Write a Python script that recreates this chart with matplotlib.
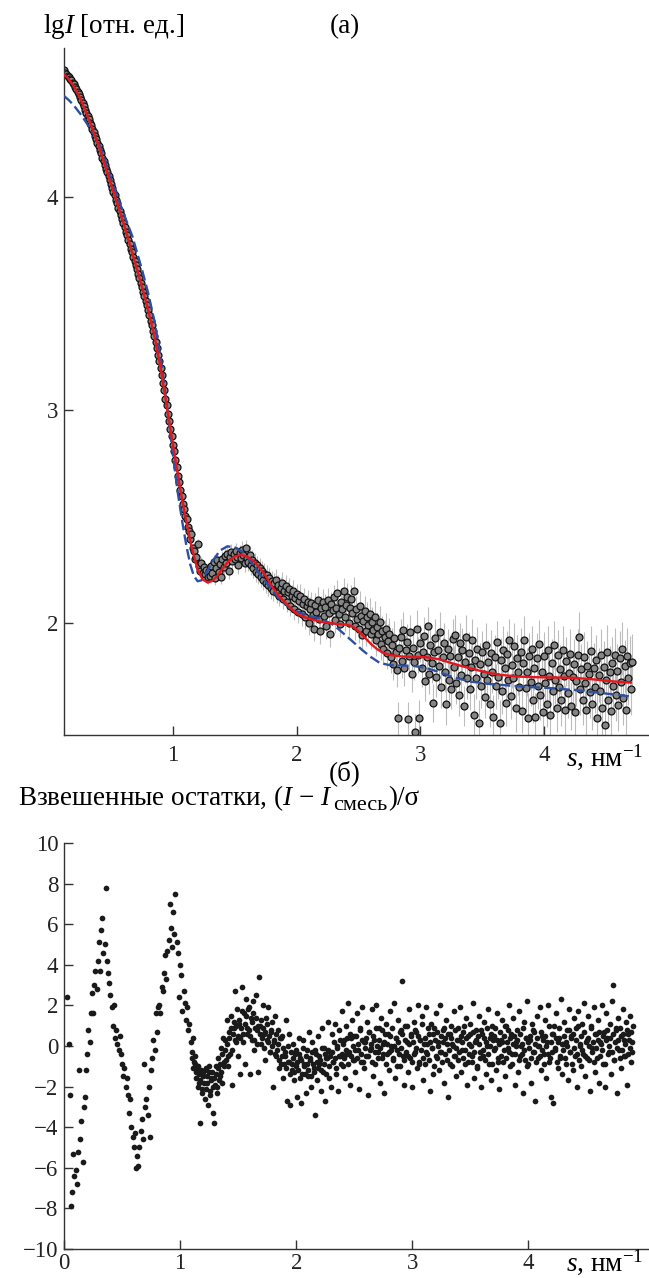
import matplotlib
matplotlib.use("Agg")
import matplotlib.pyplot as plt
import numpy as np

plt.rcParams["font.family"] = ["Liberation Serif", "DejaVu Serif"]
plt.rcParams["mathtext.fontset"] = "custom"
plt.rcParams["mathtext.rm"] = "Liberation Serif"
plt.rcParams["mathtext.it"] = "Liberation Serif:italic"
plt.rcParams["mathtext.bf"] = "Liberation Serif:bold"

# measurement grid, s in nm^-1
s_grid = [
    0.03, 0.04, 0.05, 0.06, 0.07, 0.08, 0.09,
    0.10, 0.11, 0.12, 0.13, 0.14, 0.15, 0.16, 0.17, 0.18, 0.19,
    0.20, 0.21, 0.22, 0.23, 0.24, 0.25, 0.26, 0.27, 0.28, 0.29,
    0.30, 0.31, 0.32, 0.33, 0.34, 0.35, 0.36, 0.37, 0.38, 0.39,
    0.40, 0.41, 0.42, 0.43, 0.44, 0.45, 0.46, 0.47, 0.48, 0.49,
    0.50, 0.51, 0.52, 0.53, 0.54, 0.55, 0.56, 0.57, 0.58, 0.59,
    0.60, 0.61, 0.62, 0.63, 0.64, 0.65, 0.66, 0.67, 0.68, 0.69,
    0.70, 0.71, 0.72, 0.73, 0.74, 0.75, 0.76, 0.77, 0.78, 0.79,
    0.80, 0.81, 0.82, 0.83, 0.84, 0.85, 0.86, 0.87, 0.88, 0.89,
    0.90, 0.91, 0.92, 0.93, 0.94, 0.95, 0.96, 0.97, 0.98, 0.99,
    1.00, 1.01, 1.02, 1.03, 1.04, 1.05, 1.06, 1.07, 1.08, 1.09,
    1.10, 1.11, 1.12, 1.13, 1.14, 1.15, 1.16, 1.17, 1.18, 1.19,
    1.20, 1.21, 1.22, 1.23, 1.24, 1.25, 1.26, 1.27, 1.28, 1.29,
    1.30, 1.31, 1.32, 1.33, 1.34, 1.35, 1.36, 1.37, 1.38, 1.39,
    1.40, 1.41, 1.42, 1.43, 1.44, 1.45, 1.46, 1.47, 1.48, 1.49,
    1.50, 1.51, 1.52, 1.53, 1.54, 1.55, 1.56, 1.57, 1.58, 1.59,
    1.60, 1.61, 1.62, 1.63, 1.64, 1.65, 1.66, 1.67, 1.68, 1.69,
    1.70, 1.71, 1.72, 1.73, 1.74, 1.75, 1.76, 1.77, 1.78, 1.79,
    1.80, 1.81, 1.82, 1.83, 1.84, 1.85, 1.86, 1.87, 1.88, 1.89,
    1.90, 1.91, 1.92, 1.93, 1.94, 1.95, 1.96, 1.97, 1.98, 1.99,
    2.00, 2.01, 2.02, 2.03, 2.04, 2.05, 2.06, 2.07, 2.08, 2.09,
    2.10, 2.11, 2.12, 2.13, 2.14, 2.15, 2.16, 2.17, 2.18, 2.19,
    2.20, 2.21, 2.22, 2.23, 2.24, 2.25, 2.26, 2.27, 2.28, 2.29,
    2.30, 2.31, 2.32, 2.33, 2.34, 2.35, 2.36, 2.37, 2.38, 2.39,
    2.40, 2.41, 2.42, 2.43, 2.44, 2.45, 2.46, 2.47, 2.48, 2.49,
    2.50, 2.51, 2.52, 2.53, 2.54, 2.55, 2.56, 2.57, 2.58, 2.59,
    2.60, 2.61, 2.62, 2.63, 2.64, 2.65, 2.66, 2.67, 2.68, 2.69,
    2.70, 2.71, 2.72, 2.73, 2.74, 2.75, 2.76, 2.77, 2.78, 2.79,
    2.80, 2.81, 2.82, 2.83, 2.84, 2.85, 2.86, 2.87, 2.88, 2.89,
    2.90, 2.91, 2.92, 2.93, 2.94, 2.95, 2.96, 2.97, 2.98, 2.99,
    3.00, 3.01, 3.02, 3.03, 3.04, 3.05, 3.06, 3.07, 3.08, 3.09,
    3.10, 3.11, 3.12, 3.13, 3.14, 3.15, 3.16, 3.17, 3.18, 3.19,
    3.20, 3.21, 3.22, 3.23, 3.24, 3.25, 3.26, 3.27, 3.28, 3.29,
    3.30, 3.31, 3.32, 3.33, 3.34, 3.35, 3.36, 3.37, 3.38, 3.39,
    3.40, 3.41, 3.42, 3.43, 3.44, 3.45, 3.46, 3.47, 3.48, 3.49,
    3.50, 3.51, 3.52, 3.53, 3.54, 3.55, 3.56, 3.57, 3.58, 3.59,
    3.60, 3.61, 3.62, 3.63, 3.64, 3.65, 3.66, 3.67, 3.68, 3.69,
    3.70, 3.71, 3.72, 3.73, 3.74, 3.75, 3.76, 3.77, 3.78, 3.79,
    3.80, 3.81, 3.82, 3.83, 3.84, 3.85, 3.86, 3.87, 3.88, 3.89,
    3.90, 3.91, 3.92, 3.93, 3.94, 3.95, 3.96, 3.97, 3.98, 3.99,
    4.00, 4.01, 4.02, 4.03, 4.04, 4.05, 4.06, 4.07, 4.08, 4.09,
    4.10, 4.11, 4.12, 4.13, 4.14, 4.15, 4.16, 4.17, 4.18, 4.19,
    4.20, 4.21, 4.22, 4.23, 4.24, 4.25, 4.26, 4.27, 4.28, 4.29,
    4.30, 4.31, 4.32, 4.33, 4.34, 4.35, 4.36, 4.37, 4.38, 4.39,
    4.40, 4.41, 4.42, 4.43, 4.44, 4.45, 4.46, 4.47, 4.48, 4.49,
    4.50, 4.51, 4.52, 4.53, 4.54, 4.55, 4.56, 4.57, 4.58, 4.59,
    4.60, 4.61, 4.62, 4.63, 4.64, 4.65, 4.66, 4.67, 4.68, 4.69,
    4.70, 4.71, 4.72, 4.73, 4.74, 4.75, 4.76, 4.77, 4.78, 4.79,
    4.80, 4.81, 4.82, 4.83, 4.84, 4.85, 4.86, 4.87, 4.88, 4.89,
    4.90,
]

# weighted residuals (I - I_mix)/sigma on s_grid
resid = [
    2.4, 0.1, -2.4, -7.9, -7.2, -5.3, -6.4,
    -6.1, -6.8, -5.2, -1.2, -4.6, -3.7, -5.7, -3.0, -2.5, -1.2,
    -0.4, 0.8, 0.2, 1.6, 2.6, 1.6, 3.0, 3.7, 2.8, 4.2,
    5.1, 3.7, 5.7, 6.3, 4.6, 5.0, 7.8, 4.2, 3.6, 3.1,
    2.5, 1.9, 1.0, 2.0, 0.4, 0.8, 0.1, -0.2, 0.5, -0.4,
    -0.9, -1.5, -1.1, -2.0, -1.6, -2.4, -3.3, -2.6, -4.0, -4.5,
    -5.0, -4.3, -6.0, -5.4, -5.9, -5.0, -4.2, -3.6, -4.6, -0.9,
    -3.0, -2.6, -3.4, -2.0, -4.5, -1.2, -0.6, 0.3, -0.2, 1.6,
    0.7, 1.9, 2.0, 1.6, 2.9, 2.7, 3.6, 4.5, 3.3, 4.7,
    5.2, 7.0, 5.8, 4.9, 6.6, 5.5, 7.5, 5.1, 4.6, 2.4,
    4.0, 3.5, 1.7, 2.7, 2.1, 1.3, 1.9, 0.8, 1.1, 0.2,
    -0.3, 0.4, -0.8, -0.5, -1.3, -1.0, -1.8, -3.8, -1.2, -2.1,
    -1.5, -2.6, -1.1, -1.8, -2.9, -1.3, -2.2, -1.6, -3.3, -3.8,
    -1.9, -1.0, -2.3, -0.6, -1.5, -0.1, -1.8, 0.4, -0.8, 0.3,
    1.3, -1.0, 0.7, -0.4, 1.5, -1.9, 0.9, 2.7, 0.2, 1.8,
    -0.5, 1.1, -1.4, 2.9, 0.6, 1.6, -0.9, 2.3, 0.9, 1.9,
    -1.4, 1.4, 0.3, 2.2, -0.2, 2.5, 0.8, -1.3, 3.4, 1.0,
    0.1, 2.0, 0.6, -0.7, 1.4, 0.3, 1.9, -0.3, 0.7, 1.2,
    -2.0, 0.2, 1.5, -0.5, 0.8, -1.1, 0.4, -0.9, 0.5, -1.6,
    -0.3, 1.3, -2.7, -0.8, 0.6, -2.9, -1.2, 0.1, -1.7, -0.4,
    -1.0, -2.5, 0.4, -0.6, -2.8, -1.4, 0.3, -0.9, -2.3, -0.2,
    -1.5, 0.7, -0.7, -2.0, 0.2, -1.1, -3.4, -0.4, -1.7, 0.5,
    -0.9, -2.2, 0.9, -1.3, -0.1, -2.7, -0.6, 1.2, -1.6, -0.3,
    -2.0, 0.6, -0.8, 1.1, -1.4, 0.0, -2.2, 0.8, -0.5, 1.7,
    -1.0, 0.3, -1.6, 1.0, -0.4, 2.1, -1.9, 0.4, 1.3, -0.7,
    0.5, -1.3, 1.6, -0.2, -2.1, 0.9, -0.8, 1.9, -1.1, 0.2,
    -0.5, 1.2, -2.4, 0.7, -0.1, 1.8, -1.5, 0.3, -0.9, 2.0,
    -0.3, 0.9, -1.8, 1.4, -0.6, 0.1, -2.3, 1.1, -0.4, 0.6,
    -1.2, 1.7, 0.0, -0.7, 2.1, -1.6, 0.4, -0.2, 1.3, -1.0,
    0.8, 3.2, -0.5, -1.9, 1.0, 0.2, -1.3, 1.8, -0.6, 0.5,
    -2.0, 1.2, -0.3, 0.7, -1.1, 2.0, -0.8, 0.3, 1.5, -1.7,
    0.1, -0.9, 1.9, -0.4, 0.6, -2.2, 1.1, -0.1, -1.4, 0.9,
    1.6, -0.6, 0.2, -1.2, 2.0, -0.3, 0.8, -1.8, 0.4, 1.3,
    -0.7, -2.5, 0.6, 1.0, -1.0, 0.0, 1.7, -0.5, -1.5, 0.9,
    0.3, 1.9, -1.3, -0.2, 0.7, -0.9, 1.4, -1.9, 0.5, -0.4,
    1.1, -0.8, 2.1, -1.6, 0.2, 0.8, -1.1, 1.5, -0.3, -2.0,
    0.6, -0.5, 1.2, -1.4, 0.0, 1.8, -0.9, 0.4, -1.7, 1.0,
    -0.2, 0.9, -1.2, 1.6, -0.6, -2.1, 0.3, 1.3, -0.8, 0.5,
    -1.5, 1.0, -0.1, 2.0, -1.0, 0.6, -0.4, 1.4, -1.9, 0.2,
    0.8, -1.3, 1.7, -0.5, 0.1, -2.3, 1.2, -0.7, 0.4, 2.2,
    -0.9, 0.3, -1.8, 1.1, -0.3, 0.7, -2.7, 1.5, -0.6, 0.0,
    1.9, -1.2, 0.5, -0.4, 1.3, -1.6, 0.2, 2.0, -0.8, -2.5,
    0.6, -2.8, 1.0, -0.2, 1.6, -1.1, 0.4, -0.6, 2.3, -1.4,
    0.1, 1.2, -0.9, 0.8, -1.7, 1.8, -0.3, 0.5, -1.2, 1.4,
    -0.5, 0.9, -2.0, 1.7, 0.0, -1.0, 1.1, -0.4, 2.1, -1.5,
    0.3, 1.5, -0.7, -2.2, 1.0, -0.1, 1.9, -1.3, 0.6, -0.6,
    1.3, -1.8, 0.2, 2.0, -0.9, 0.7, -2.0, 1.6, 0.4, -0.3,
    1.1, -1.4, 2.2, 3.0, -0.7, 0.8, -2.3, 1.4, -0.2, 0.9,
    -1.1, 1.8, 0.3, -0.5, 1.2, -1.9, 0.6, 1.5, -0.8, 0.2,
    1.0,
]

# second set of residual points, between the grid nodes above (s >= 1.1)
s_grid_b = [
    1.105, 1.115, 1.125, 1.135, 1.145, 1.155, 1.165, 1.175, 1.185, 1.195,
    1.205, 1.215, 1.225, 1.235, 1.245, 1.255, 1.265, 1.275, 1.285, 1.295,
    1.305, 1.315, 1.325, 1.335, 1.345, 1.355, 1.365, 1.375, 1.385, 1.395,
    1.405, 1.415, 1.425, 1.435, 1.445, 1.455, 1.465, 1.475, 1.485, 1.495,
    1.505, 1.515, 1.525, 1.535, 1.545, 1.555, 1.565, 1.575, 1.585, 1.595,
    1.605, 1.615, 1.625, 1.635, 1.645, 1.655, 1.665, 1.675, 1.685, 1.695,
    1.705, 1.715, 1.725, 1.735, 1.745, 1.755, 1.765, 1.775, 1.785, 1.795,
    1.805, 1.815, 1.825, 1.835, 1.845, 1.855, 1.865, 1.875, 1.885, 1.895,
    1.905, 1.915, 1.925, 1.935, 1.945, 1.955, 1.965, 1.975, 1.985, 1.995,
    2.005, 2.015, 2.025, 2.035, 2.045, 2.055, 2.065, 2.075, 2.085, 2.095,
    2.105, 2.115, 2.125, 2.135, 2.145, 2.155, 2.165, 2.175, 2.185, 2.195,
    2.205, 2.215, 2.225, 2.235, 2.245, 2.255, 2.265, 2.275, 2.285, 2.295,
    2.305, 2.315, 2.325, 2.335, 2.345, 2.355, 2.365, 2.375, 2.385, 2.395,
    2.405, 2.415, 2.425, 2.435, 2.445, 2.455, 2.465, 2.475, 2.485, 2.495,
    2.505, 2.515, 2.525, 2.535, 2.545, 2.555, 2.565, 2.575, 2.585, 2.595,
    2.605, 2.615, 2.625, 2.635, 2.645, 2.655, 2.665, 2.675, 2.685, 2.695,
    2.705, 2.715, 2.725, 2.735, 2.745, 2.755, 2.765, 2.775, 2.785, 2.795,
    2.805, 2.815, 2.825, 2.835, 2.845, 2.855, 2.865, 2.875, 2.885, 2.895,
    2.905, 2.915, 2.925, 2.935, 2.945, 2.955, 2.965, 2.975, 2.985, 2.995,
    3.005, 3.015, 3.025, 3.035, 3.045, 3.055, 3.065, 3.075, 3.085, 3.095,
    3.105, 3.115, 3.125, 3.135, 3.145, 3.155, 3.165, 3.175, 3.185, 3.195,
    3.205, 3.215, 3.225, 3.235, 3.245, 3.255, 3.265, 3.275, 3.285, 3.295,
    3.305, 3.315, 3.325, 3.335, 3.345, 3.355, 3.365, 3.375, 3.385, 3.395,
    3.405, 3.415, 3.425, 3.435, 3.445, 3.455, 3.465, 3.475, 3.485, 3.495,
    3.505, 3.515, 3.525, 3.535, 3.545, 3.555, 3.565, 3.575, 3.585, 3.595,
    3.605, 3.615, 3.625, 3.635, 3.645, 3.655, 3.665, 3.675, 3.685, 3.695,
    3.705, 3.715, 3.725, 3.735, 3.745, 3.755, 3.765, 3.775, 3.785, 3.795,
    3.805, 3.815, 3.825, 3.835, 3.845, 3.855, 3.865, 3.875, 3.885, 3.895,
    3.905, 3.915, 3.925, 3.935, 3.945, 3.955, 3.965, 3.975, 3.985, 3.995,
    4.005, 4.015, 4.025, 4.035, 4.045, 4.055, 4.065, 4.075, 4.085, 4.095,
    4.105, 4.115, 4.125, 4.135, 4.145, 4.155, 4.165, 4.175, 4.185, 4.195,
    4.205, 4.215, 4.225, 4.235, 4.245, 4.255, 4.265, 4.275, 4.285, 4.295,
    4.305, 4.315, 4.325, 4.335, 4.345, 4.355, 4.365, 4.375, 4.385, 4.395,
    4.405, 4.415, 4.425, 4.435, 4.445, 4.455, 4.465, 4.475, 4.485, 4.495,
    4.505, 4.515, 4.525, 4.535, 4.545, 4.555, 4.565, 4.575, 4.585, 4.595,
    4.605, 4.615, 4.625, 4.635, 4.645, 4.655, 4.665, 4.675, 4.685, 4.695,
    4.705, 4.715, 4.725, 4.735, 4.745, 4.755, 4.765, 4.775, 4.785, 4.795,
    4.805, 4.815, 4.825, 4.835, 4.845, 4.855, 4.865, 4.875, 4.885, 4.895,
]
resid_b = [
    -0.6, -1.1, -0.9, -1.6, -1.2, -2.0, -1.4, -1.7, -2.3, -1.3,
    -1.8, -1.2, -2.1, -1.5, -1.0, -2.4, -1.7, -1.3, -2.0, -1.6,
    -1.4, -2.0, -1.1, -1.7, -0.9, -1.3, -0.4, -1.0, -0.2, -0.7,
    0.1, -0.5, 0.4, 0.9, -0.2, 0.6, 1.2, 0.3, 1.0, 0.5,
    1.3, 0.4, 0.9, 1.7, 0.2, 1.1, 1.5, 0.6, 1.8, 0.8,
    0.5, 1.2, 1.6, 0.3, 0.9, 1.4, 0.1, 1.0, 0.6, 1.3,
    0.4, 0.9, -0.1, 0.7, 1.1, 0.2, 0.5, -0.3, 0.8, 0.0,
    0.3, -0.4, 0.6, -0.2, 0.1, -0.7, 0.4, -0.5, -0.1, -0.9,
    -0.5, -1.1, 0.0, -0.8, -1.4, -0.3, -0.9, -0.6, -1.3, -0.2,
    -0.8, -1.2, -0.4, -1.6, -0.7, -0.1, -1.0, -1.4, -0.5, -0.9,
    -1.2, -0.6, -1.5, -0.3, -0.9, -1.3, -0.2, -0.8, -1.1, -0.5,
    -0.7, -1.2, -0.1, -0.9, -0.4, -1.4, -0.6, -0.2, -1.0, -0.5,
    -0.3, -0.8, 0.2, -0.6, -1.1, -0.1, -0.5, 0.3, -0.9, -0.4,
    0.1, -0.6, -0.2, 0.4, -0.9, -0.3, 0.6, -0.5, 0.0, -0.7,
    -0.2, 0.5, -0.6, 0.1, 0.8, -0.4, 0.3, -0.8, 0.2, -0.1,
    0.4, -0.5, 0.7, -0.2, 0.1, -0.8, 0.5, -0.3, 0.9, 0.0,
    -0.6, 0.3, -0.1, 0.8, -0.4, 0.2, 0.6, -0.9, 0.1, -0.3,
    0.5, -0.2, 0.9, -0.6, 0.0, 0.4, -1.0, 0.2, -0.4, 0.7,
    -0.1, 0.6, -0.7, 0.3, -0.3, 1.0, -0.5, 0.1, 0.6, -0.8,
    0.2, -0.4, 0.8, -0.1, 0.5, -0.9, 0.3, -0.2, 1.1, -0.6,
    0.4, -0.3, 0.1, 0.9, -0.7, 0.2, -0.1, 0.6, -1.0, 0.3,
    -0.5, 0.7, 0.0, -0.3, 0.5, -0.8, 0.2, 0.9, -0.4, 0.1,
    0.6, -0.2, -0.9, 0.4, 0.1, -0.5, 0.8, -0.1, 0.3, -0.7,
    -0.3, 0.5, 0.2, -0.6, 1.0, -0.2, 0.4, -0.8, 0.1, 0.6,
    0.0, -0.5, 0.7, -0.3, 0.3, -1.0, 0.5, 0.1, -0.6, 0.8,
    -0.2, 0.4, -0.7, 0.2, 0.9, -0.4, 0.0, 0.6, -0.9, 0.3,
    0.5, -0.1, 0.3, -0.8, 0.1, 0.7, -0.5, 0.2, -0.2, 1.0,
    -0.6, 0.2, 0.8, -0.3, 0.4, -0.9, 0.1, 0.5, -0.4, 0.0,
    0.3, -0.7, 0.6, 0.0, -0.4, 0.9, -0.2, 0.4, -1.0, 0.2,
    -0.1, 0.5, -0.6, 0.8, -0.3, 0.1, -0.8, 0.4, 0.0, -0.5,
    0.7, -0.2, 0.3, -0.9, 0.5, 0.0, -0.4, 1.0, -0.6, 0.2,
    -0.3, 0.6, -0.1, 0.4, -0.8, 0.2, 0.9, -0.5, 0.1, -0.2,
    0.5, -0.6, 0.2, 0.0, 0.8, -0.3, 0.4, -0.9, 0.6, -0.1,
    0.3, -0.4, 1.0, -0.7, 0.1, 0.5, -0.2, 0.7, -0.5, 0.2,
    -0.6, 0.4, 0.0, 0.9, -0.3, 0.2, -0.8, 0.6, -0.1, 0.3,
    0.7, -0.5, 0.1, -0.2, 0.5, -0.9, 0.3, 0.8, -0.4, 0.0,
    0.4, -0.3, 0.6, -0.7, 0.2, 0.9, -0.1, 0.3, -0.6, 0.5,
    -0.2, 0.6, -0.5, 0.1, 0.8, -0.4, 0.3, -0.1, 0.7, -0.3,
]

# experimental lg I, on s_grid starting at s = 0.12
lgI_exp = [
    4.598, 4.585, 4.580, 4.568, 4.565, 4.553, 4.548, 4.536,
    4.532, 4.518, 4.509, 4.494, 4.486, 4.470, 4.458, 4.441, 4.429, 4.409,
    4.397, 4.380, 4.368, 4.350, 4.337, 4.320, 4.306, 4.287, 4.274, 4.255,
    4.242, 4.222, 4.207, 4.186, 4.170, 4.152, 4.133, 4.118, 4.097, 4.082,
    4.062, 4.045, 4.026, 4.009, 3.988, 3.972, 3.951, 3.936, 3.915, 3.899,
    3.878, 3.860, 3.838, 3.821, 3.798, 3.781, 3.758, 3.742, 3.719, 3.701,
    3.680, 3.661, 3.638, 3.622, 3.597, 3.580, 3.556, 3.537, 3.512, 3.494,
    3.468, 3.447, 3.420, 3.401, 3.372, 3.350, 3.318, 3.292, 3.258, 3.232,
    3.198, 3.165, 3.126, 3.094, 3.054, 3.022, 2.982, 2.950, 2.910, 2.878,
    2.838, 2.806, 2.764, 2.734, 2.692, 2.662, 2.626, 2.598, 2.560, 2.534,
    2.504, 2.488, 2.452, 2.432, 2.396, 2.420, 2.352, 2.336, 2.300, 2.310,
    2.372, 2.268, 2.244, 2.282, 2.236, 2.262, 2.228, 2.250, 2.214, 2.246,
    2.222, 2.268, 2.234, 2.286, 2.212, 2.258, 2.296, 2.240, 2.276, 2.218,
    2.302, 2.262, 2.314, 2.280, 2.326, 2.246, 2.310, 2.332, 2.290, 2.322,
    2.302, 2.336, 2.312, 2.274, 2.328, 2.304, 2.344, 2.318, 2.282, 2.350,
    2.306, 2.288, 2.318, 2.270, 2.298, 2.256, 2.284, 2.240, 2.272, 2.228,
    2.258, 2.214, 2.246, 2.200, 2.232, 2.188, 2.224, 2.176, 2.210, 2.162,
    2.196, 2.150, 2.188, 2.204, 2.142, 2.176, 2.128, 2.166, 2.190, 2.114,
    2.152, 2.172, 2.098, 2.146, 2.160, 2.082, 2.128, 2.150, 2.066, 2.118,
    2.134, 2.052, 2.102, 2.128, 2.040, 2.090, 2.112, 2.026, 2.078, 2.100,
    1.998, 2.066, 2.092, 2.036, 1.972, 2.084, 2.052, 2.110, 2.020, 1.960,
    2.070, 2.098, 2.034, 2.076, 1.986, 2.106, 2.048, 1.950, 2.088, 2.062,
    2.120, 2.014, 2.072, 2.140, 2.040, 1.996, 2.100, 2.066, 2.150, 2.028,
    2.086, 2.124, 2.002, 2.070, 2.112, 2.046, 2.150, 1.988, 2.064, 2.020,
    1.972, 2.080, 2.034, 1.944, 2.010, 2.058, 1.962, 2.026, 1.990, 2.044,
    1.950, 2.004, 1.968, 2.030, 1.918, 1.982, 1.946, 2.006, 1.900, 1.960,
    1.880, 1.936, 1.972, 1.860, 1.914, 1.948, 1.842, 1.896, 1.808, 1.930,
    1.862, 1.780, 1.552, 1.884, 1.936, 1.822, 1.968, 1.790, 1.874, 1.910,
    1.548, 1.846, 1.958, 1.760, 1.884, 1.816, 1.486, 1.972, 1.850, 1.552,
    1.904, 1.788, 1.866, 1.940, 1.726, 1.838, 1.986, 1.760, 1.896, 1.812,
    1.624, 1.862, 1.930, 1.744, 1.874, 1.796, 1.958, 1.700, 1.842, 1.906,
    1.770, 1.618, 1.880, 1.732, 1.846, 1.690, 1.924, 1.792, 1.944, 1.716,
    1.838, 1.664, 1.904, 1.756, 1.874, 1.610, 1.818, 1.936, 1.742, 1.858,
    1.688, 1.794, 1.920, 1.566, 1.828, 1.742, 1.880, 1.532, 1.806, 1.704,
    1.862, 1.760, 1.652, 1.896, 1.734, 1.818, 1.618, 1.860, 1.772, 1.558,
    1.842, 1.702, 1.910, 1.748, 1.530, 1.826, 1.680, 1.874, 1.790, 1.626,
    1.856, 1.730, 1.918, 1.658, 1.804, 1.742, 1.892, 1.600, 1.836, 1.770,
    1.700, 1.866, 1.586, 1.812, 1.920, 1.694, 1.770, 1.556, 1.846, 1.724,
    1.880, 1.640, 1.790, 1.560, 1.836, 1.706, 1.902, 1.660, 1.770, 1.580,
    1.846, 1.718, 1.620, 1.872, 1.752, 1.570, 1.810, 1.680, 1.896, 1.734,
    1.600, 1.850, 1.700, 1.782, 1.636, 1.874, 1.752, 1.590, 1.820, 1.670,
    1.766, 1.856, 1.612, 1.744, 1.806, 1.580, 1.728, 1.850, 1.936, 1.690,
    1.786, 1.640, 1.842, 1.716, 1.590, 1.800, 1.762, 1.676, 1.868, 1.620,
    1.788, 1.700, 1.826, 1.554, 1.756, 1.680, 1.850, 1.600, 1.794, 1.520,
    1.730, 1.866, 1.640, 1.770, 1.586, 1.812, 1.704, 1.848, 1.660, 1.774,
    1.616, 1.834, 1.722, 1.880, 1.650, 1.796, 1.590, 1.846, 1.740, 1.812,
    1.690, 1.818,
]

# error of lg I for the same points
lgI_err = [
    0.004, 0.004, 0.004, 0.004, 0.004, 0.004, 0.004, 0.004,
    0.005, 0.005, 0.005, 0.005, 0.005, 0.005, 0.005, 0.005, 0.005, 0.005,
    0.005, 0.005, 0.005, 0.005, 0.005, 0.005, 0.005, 0.005, 0.005, 0.005,
    0.005, 0.005, 0.005, 0.005, 0.005, 0.005, 0.005, 0.005, 0.005, 0.005,
    0.006, 0.006, 0.006, 0.006, 0.006, 0.006, 0.006, 0.006, 0.006, 0.006,
    0.006, 0.006, 0.006, 0.006, 0.006, 0.006, 0.006, 0.006, 0.006, 0.006,
    0.007, 0.007, 0.007, 0.007, 0.007, 0.007, 0.007, 0.007, 0.007, 0.007,
    0.008, 0.008, 0.008, 0.008, 0.008, 0.008, 0.008, 0.008, 0.008, 0.008,
    0.009, 0.009, 0.009, 0.009, 0.009, 0.009, 0.009, 0.009, 0.009, 0.009,
    0.010, 0.011, 0.012, 0.012, 0.013, 0.014, 0.014, 0.015, 0.016, 0.016,
    0.017, 0.018, 0.018, 0.019, 0.020, 0.020, 0.021, 0.022, 0.022, 0.023,
    0.024, 0.024, 0.025, 0.026, 0.026, 0.027, 0.028, 0.028, 0.029, 0.030,
    0.030, 0.031, 0.031, 0.032, 0.032, 0.033, 0.033, 0.034, 0.034, 0.035,
    0.035, 0.036, 0.036, 0.037, 0.037, 0.038, 0.038, 0.038, 0.039, 0.039,
    0.040, 0.039, 0.041, 0.042, 0.040, 0.043, 0.041, 0.042, 0.044, 0.042,
    0.043, 0.045, 0.042, 0.044, 0.046, 0.043, 0.045, 0.047, 0.044, 0.046,
    0.045, 0.047, 0.044, 0.046, 0.048, 0.045, 0.047, 0.049, 0.046, 0.048,
    0.047, 0.049, 0.046, 0.048, 0.050, 0.047, 0.049, 0.051, 0.048, 0.050,
    0.049, 0.051, 0.048, 0.050, 0.052, 0.049, 0.051, 0.053, 0.050, 0.052,
    0.051, 0.054, 0.050, 0.053, 0.055, 0.052, 0.054, 0.056, 0.053, 0.055,
    0.054, 0.057, 0.053, 0.056, 0.058, 0.055, 0.057, 0.059, 0.056, 0.058,
    0.057, 0.060, 0.056, 0.059, 0.061, 0.058, 0.060, 0.062, 0.059, 0.061,
    0.060, 0.063, 0.059, 0.062, 0.064, 0.061, 0.063, 0.065, 0.062, 0.064,
    0.063, 0.066, 0.062, 0.065, 0.067, 0.064, 0.066, 0.068, 0.065, 0.067,
    0.066, 0.069, 0.065, 0.068, 0.071, 0.067, 0.070, 0.072, 0.068, 0.071,
    0.070, 0.073, 0.069, 0.072, 0.075, 0.071, 0.074, 0.076, 0.072, 0.075,
    0.074, 0.077, 0.073, 0.076, 0.079, 0.075, 0.078, 0.080, 0.076, 0.079,
    0.078, 0.081, 0.077, 0.080, 0.083, 0.079, 0.082, 0.084, 0.080, 0.083,
    0.082, 0.085, 0.081, 0.084, 0.087, 0.083, 0.086, 0.088, 0.084, 0.087,
    0.086, 0.090, 0.085, 0.089, 0.092, 0.087, 0.091, 0.094, 0.088, 0.092,
    0.089, 0.093, 0.088, 0.092, 0.095, 0.090, 0.094, 0.097, 0.091, 0.095,
    0.092, 0.096, 0.091, 0.095, 0.098, 0.093, 0.097, 0.100, 0.094, 0.098,
    0.095, 0.099, 0.094, 0.098, 0.101, 0.096, 0.100, 0.103, 0.097, 0.101,
    0.098, 0.102, 0.097, 0.101, 0.104, 0.099, 0.103, 0.106, 0.100, 0.104,
    0.100, 0.104, 0.099, 0.103, 0.107, 0.101, 0.105, 0.108, 0.102, 0.106,
    0.102, 0.106, 0.101, 0.105, 0.109, 0.103, 0.107, 0.110, 0.104, 0.108,
    0.104, 0.108, 0.103, 0.107, 0.111, 0.105, 0.109, 0.112, 0.106, 0.110,
    0.106, 0.110, 0.105, 0.109, 0.113, 0.107, 0.111, 0.114, 0.108, 0.112,
    0.108, 0.112, 0.107, 0.111, 0.115, 0.109, 0.113, 0.116, 0.110, 0.114,
    0.110, 0.114, 0.109, 0.113, 0.117, 0.111, 0.115, 0.118, 0.112, 0.116,
    0.112, 0.116, 0.111, 0.115, 0.119, 0.113, 0.117, 0.120, 0.114, 0.118,
    0.114, 0.118, 0.113, 0.117, 0.121, 0.115, 0.119, 0.122, 0.116, 0.120,
    0.116, 0.120, 0.115, 0.119, 0.123, 0.117, 0.121, 0.124, 0.118, 0.122,
    0.118, 0.122, 0.117, 0.121, 0.125, 0.119, 0.123, 0.126, 0.120, 0.124,
    0.120, 0.124, 0.119, 0.123, 0.127, 0.121, 0.125, 0.128, 0.122, 0.126,
    0.122, 0.126, 0.121, 0.125, 0.129, 0.123, 0.127, 0.130, 0.124, 0.128,
    0.124, 0.128,
]

# fit of the mixture (red) and single-model fit (blue dashed)
fit_mix_s = [0.12, 0.15, 0.20, 0.25, 0.30, 0.35, 0.40, 0.45, 0.50, 0.55,
             0.60, 0.65, 0.70, 0.75, 0.80, 0.85, 0.90, 0.95, 1.00, 1.05,
             1.10, 1.15, 1.20, 1.24, 1.28, 1.32, 1.36, 1.40, 1.45, 1.50,
             1.55, 1.60, 1.65, 1.70, 1.75, 1.80, 1.85, 1.90, 1.95, 2.00,
             2.05, 2.10, 2.20, 2.30, 2.40, 2.45, 2.50, 2.55, 2.60, 2.65,
             2.70, 2.75, 2.85, 2.95, 3.05, 3.15, 3.25, 3.35, 3.45, 3.55,
             3.65, 3.80, 3.95, 4.10, 4.25, 4.40, 4.55, 4.70]
fit_mix = [4.575, 4.56, 4.52, 4.465, 4.395, 4.32, 4.24, 4.15, 4.06, 3.97,
           3.88, 3.78, 3.68, 3.58, 3.47, 3.35, 3.20, 3.02, 2.84, 2.66,
           2.50, 2.36, 2.25, 2.205, 2.19, 2.198, 2.222, 2.255, 2.29, 2.312,
           2.32, 2.312, 2.292, 2.26, 2.22, 2.172, 2.132, 2.10, 2.07, 2.045,
           2.03, 2.02, 2.005, 1.997, 1.992, 1.985, 1.962, 1.932, 1.902, 1.877,
           1.86, 1.85, 1.843, 1.84, 1.839, 1.83, 1.812, 1.795, 1.78, 1.766,
           1.756, 1.748, 1.745, 1.744, 1.742, 1.735, 1.726, 1.72]

fit_one_s = [0.12, 0.16, 0.20, 0.26, 0.30, 0.35, 0.40, 0.45, 0.50, 0.55,
             0.60, 0.67, 0.75, 0.80, 0.85, 0.90, 0.95, 1.00, 1.04, 1.08,
             1.11, 1.14, 1.17, 1.20, 1.23, 1.27, 1.32, 1.38, 1.44, 1.50,
             1.56, 1.62, 1.70, 1.76, 1.85, 1.97, 2.10, 2.20, 2.30, 2.40,
             2.53, 2.60, 2.67, 2.75, 2.85, 2.95, 3.05, 3.15, 3.25, 3.40,
             3.55, 3.70, 3.85, 4.05, 4.25, 4.45, 4.70]
fit_one = [4.475, 4.455, 4.43, 4.385, 4.35, 4.305, 4.255, 4.175, 4.085, 4.005,
           3.925, 3.82, 3.66, 3.55, 3.42, 3.25, 3.03, 2.79, 2.61, 2.46,
           2.36, 2.275, 2.22, 2.196, 2.2, 2.235, 2.29, 2.34, 2.36, 2.355,
           2.335, 2.296, 2.23, 2.185, 2.12, 2.06, 2.033, 2.02, 1.99, 1.94,
           1.873, 1.84, 1.813, 1.802, 1.80, 1.798, 1.788, 1.77, 1.748, 1.725,
           1.714, 1.707, 1.70, 1.694, 1.685, 1.672, 1.655]

AX_COL = "#333333"
FS_TICK = 16.5
FS_TEXT = 19.5
FS_SUB = 16


def style_axes(ax):
    for side in ("top", "right"):
        ax.spines[side].set_visible(False)
    for side in ("left", "bottom"):
        ax.spines[side].set_color(AX_COL)
        ax.spines[side].set_linewidth(1.0)
    ax.tick_params(direction="in", length=6.5, width=1.0, color=AX_COL,
                   labelsize=FS_TICK, labelcolor="#222222")


fig = plt.figure(figsize=(6.49, 12.78), dpi=100)

# (а) scattering curve
ax1 = fig.add_axes([0.0986, 0.4249, 0.900, 0.5375])
s_top = np.array(s_grid[9:9 + len(lgI_exp)])
ax1.errorbar(s_top, lgI_exp, yerr=lgI_err, fmt="none", ecolor="#bdbdbd",
             elinewidth=0.8, zorder=1)
ax1.plot(s_top, lgI_exp, "o", ms=5, mfc="#858585", mec="#111111", mew=0.9,
         zorder=2)
ax1.plot(fit_one_s, fit_one, color="#2e4fa3", lw=1.7, dashes=(4.5, 1.8),
         zorder=3)
ax1.plot(fit_mix_s, fit_mix, color="#e5161c", lw=1.7, zorder=4)
ax1.set_xlim(0.12, 4.84)
ax1.set_ylim(1.474, 4.70)
ax1.set_xticks([1, 2, 3, 4])
ax1.set_yticks([2, 3, 4])
style_axes(ax1)
ax1.tick_params(axis="x", pad=7)
ax1.tick_params(axis="y", pad=4)

# (б) weighted residuals
ax2 = fig.add_axes([0.0986, 0.0227, 0.900, 0.3177])
ax2.plot(s_grid, resid, "o", ms=4.1, color="#1a1a1a", mew=0)
ax2.plot(s_grid_b, resid_b, "o", ms=4.1, color="#1a1a1a", mew=0)
ax2.set_xlim(0, 5.03)
ax2.set_ylim(-10, 10)
ax2.set_xticks([0, 1, 2, 3, 4])
ax2.set_yticks(range(-10, 11, 2))
style_axes(ax2)
ax2.tick_params(axis="x", pad=3)
ax2.tick_params(axis="y", pad=4)

fig.text(0.066, 0.9742, "lg$I$ [отн. ед.]", fontsize=FS_TEXT, ha="left", va="baseline")
fig.text(0.5316, 0.9742, "(а)", fontsize=FS_TEXT, ha="center", va="baseline")
fig.text(0.8716, 0.4014, "$s$, нм$^{-1}$", fontsize=FS_TEXT, ha="left", va="baseline")
fig.text(0.5316, 0.3895, "(б)", fontsize=FS_TEXT, ha="center", va="baseline")
fig.text(0.8716, 0.0055, "$s$, нм$^{-1}$", fontsize=FS_TEXT, ha="left", va="baseline")

# residual label, built from pieces so the subscript can be larger than mathtext's
y_lab = 0.3700
renderer = fig.canvas.get_renderer()
t_main = fig.text(0.0277, y_lab, "Взвешенные остатки, ($I$ − $I$",
                  fontsize=FS_TEXT, ha="left", va="baseline")
x_next = t_main.get_window_extent(renderer).x1 / fig.bbox.width + 0.001
t_sub = fig.text(x_next, y_lab - 5 / 1278, "смесь", fontsize=FS_SUB,
                 ha="left", va="baseline")
x_next = t_sub.get_window_extent(renderer).x1 / fig.bbox.width + 0.001
fig.text(x_next, y_lab, ")/σ", fontsize=FS_TEXT, ha="left", va="baseline")

fig.savefig("out.png", dpi=100)
